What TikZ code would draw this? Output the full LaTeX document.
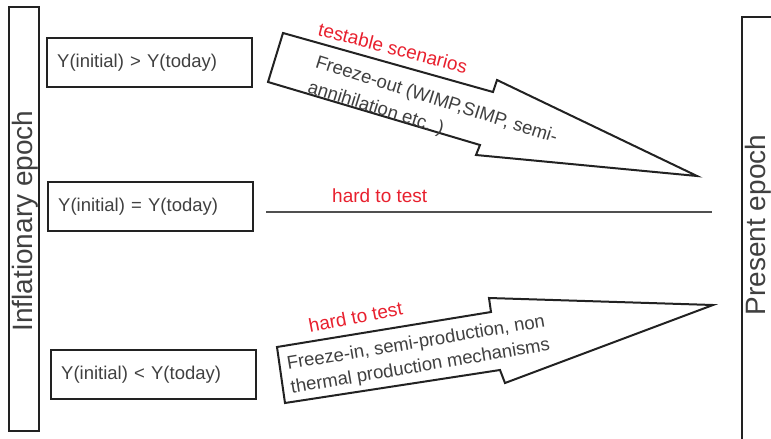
\documentclass[tikz,border=0pt]{standalone}
\usepackage{fontspec}
\setmainfont{Liberation Sans}
\definecolor{txtgray}{HTML}{404040}
\definecolor{lblred}{HTML}{E8202E}
\definecolor{edgegray}{HTML}{222222}
\definecolor{linegray}{HTML}{505050}
\tikzset{
	epochbox/.style={draw=edgegray, line width=2.4pt, anchor=north west, inner sep=0pt},
	epochlabel/.style={rotate=90, inner sep=0pt, text=txtgray, font=\fontsize{28}{32}\selectfont},
	ybox/.style={draw=edgegray, line width=2.4pt, anchor=north west, minimum width=205pt, minimum height=49pt, text width=185pt, inner xsep=10pt, align=left, text=txtgray, font=\fontsize{18.5}{22}\selectfont},
	redlabel/.style={anchor=base west, inner sep=0pt, text=lblred, font=\fontsize{19}{22}\selectfont},
	arrowtext/.style={anchor=west, inner sep=0pt, align=left, text=txtgray, font=\fontsize{18.5}{24}\selectfont},
	bigarrow/.style={draw=edgegray, line width=2pt, line join=miter, fill=white}
}
\begin{document}
\begin{tikzpicture}[x=1pt, y=-1pt]
	\useasboundingbox (0,0) rectangle (771,439);
	\clip (0,0) rectangle (771,439);
	% Paths, nodes and labels:
	\node[epochbox, minimum width=30pt, minimum height=424pt] (inflbox) at (8,6){};
	\node[epochlabel] (infl) at (25,221){Inflationary epoch};
	\node[epochbox, minimum width=60pt, minimum height=444pt] (presbox) at (741,16){};
	\node[epochlabel] (pres) at (758,225){Present epoch};
	\node[ybox] (more) at (46,37){Y(initial) > Y(today)};
	\node[ybox] (equal) at (47,181){Y(initial) = Y(today)};
	\node[ybox] (less) at (50,349){Y(initial) < Y(today)};
	\draw[bigarrow] (283,33) -- (493,92) -- (497,80) -- (697,176) -- (476,155) -- (480,145) -- (268,82) -- cycle;
	\draw[bigarrow] (277,347) -- (491,312) -- (489,298) -- (713,305) -- (505,383) -- (500,370) -- (285,403) -- cycle;
	\coordinate (flatL) at (266,212);
	\coordinate (flatR) at (712,212);
	\draw[draw=linegray, line width=2.2pt] (flatL) -- (flatR);
	\node[redlabel, rotate=-14.6] (testable) at (317,35){testable scenarios};
	\node[redlabel] (hardflat) at (332,202){hard to test};
	\node[redlabel, rotate=11] (hardin) at (310,333){hard to test};
	\node[arrowtext, rotate=-17.5, font=\fontsize{18.5}{26}\selectfont] (freezeout) at (312,75){Freeze-out (WIMP,SIMP, semi-\\annihilation etc. )};
	\node[arrowtext, rotate=9.5] (freezein) at (289,377){Freeze-in, semi-production, non\\thermal production mechanisms};
\end{tikzpicture}
\end{document}
